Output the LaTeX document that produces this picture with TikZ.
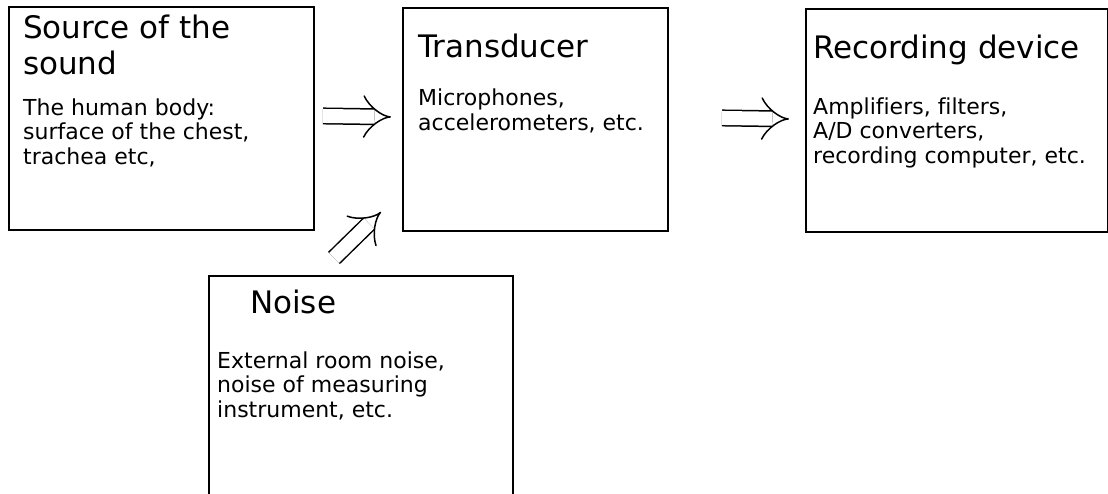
\documentclass[tikz,border=0pt]{standalone}
\usepackage{fontspec}
\setmainfont{DejaVu Sans}[Ligatures=CommonOff]
\usetikzlibrary{arrows.meta}

\begin{document}
\begin{tikzpicture}[x=1pt, y=-1pt,
        box/.style={draw, line width=1.9pt, anchor=north west, inner sep=0pt},
        title/.style={anchor=base west, inner sep=0pt, align=left,
                      font=\fontsize{31}{36}\selectfont},
        body/.style={anchor=base west, inner sep=0pt, align=left,
                     font=\fontsize{22}{24.5}\selectfont},
        dbl/.style={double, double distance=14pt, line width=1.5pt, -{Implies}}]
      \useasboundingbox (0,0) rectangle (1108,493);
      \clip (0,0) rectangle (1108,493);
      % boxes
      \node[box, minimum width=305pt, minimum height=223pt] (src)   at (8,6)     {};
      \node[box, minimum width=265pt, minimum height=223pt] (trd)   at (402,7)   {};
      \node[box, minimum width=302pt, minimum height=223pt] (rec)   at (805,8)   {};
      \node[box, minimum width=304pt, minimum height=260pt] (noise) at (208,275) {};
      % texts (placed by the baseline of their last line)
      \node[title] (src-t)   at (23,74)   {Source of the\\sound};
      \node[body]  (src-b)   at (23,164)  {The human body:\\surface of the chest,\\trachea etc,};
      \node[title] (trd-t)   at (418,57)  {Transducer};
      \node[body]  (trd-b)   at (418,130) {Microphones,\\accelerometers, etc.};
      \node[title] (rec-t)   at (813,58)  {Recording device};
      \node[body]  (rec-b)   at (813,163) {Amplifiers, filters,\\A/D converters,\\recording computer, etc.};
      \node[title] (noise-t) at (250,313) {Noise};
      \node[body]  (noise-b) at (217,417) {External room noise,\\noise of measuring\\instrument, etc.};
      % arrows
      \draw[dbl] ([shift={(8,-2.5)}]src.east)     -- ([shift={(-11,-2.5)}]trd.west);
      \draw[dbl] ([shift={(53,-1.5)}]trd.east)    -- ([shift={(-16,-1.5)}]rec.west);
      \draw[dbl] ([shift={(-27,-17)}]noise.north) -- ([shift={(-21,-20)}]trd.south west);
    \end{tikzpicture}
\end{document}
